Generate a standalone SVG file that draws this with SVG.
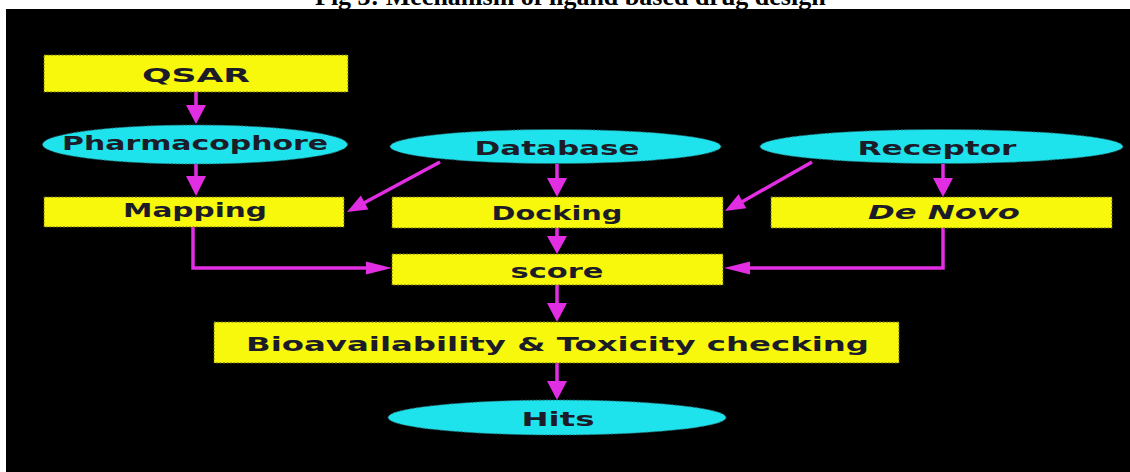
<svg xmlns="http://www.w3.org/2000/svg" width="1130" height="472" viewBox="0 0 1130 472">
  <style>
    .title { font-family: "Liberation Serif", serif; font-weight: bold; font-size: 26px; fill: #000; }
    .box { fill: #f8f80c; stroke: #6a6a20; stroke-width: 1; stroke-dasharray: 2 1.5; }
    .oval { fill: #1fe3ec; stroke: #2a6a70; stroke-width: 1; stroke-dasharray: 2 1.5; }
    .lbl { font-family: "DejaVu Sans", "Liberation Sans", sans-serif; font-weight: bold; font-size: 19px; fill: #1c1c28; text-anchor: middle; }
    .it { font-style: italic; }
    .wire { fill: none; stroke: #e22ee2; stroke-width: 3.5; }
    .head { fill: #e22ee2; }
  </style>

  <rect x="0" y="0" width="1130" height="472" fill="#ffffff"/>
  <text class="title" x="315" y="5">Fig 3: Mechanism of ligand based drug design</text>
  <rect x="6" y="9" width="1124" height="463" fill="#000000"/>

  <!-- connectors -->
  <g id="connectors">
    <!-- QSAR to Pharmacophore -->
    <line class="wire" x1="196" y1="92" x2="196" y2="108"/>
    <polygon class="head" points="186,105 206,105 196,124"/>
    <!-- Pharmacophore to Mapping -->
    <line class="wire" x1="196" y1="164" x2="196" y2="178"/>
    <polygon class="head" points="186,176 206,176 196,196"/>
    <!-- Database to Mapping -->
    <line class="wire" x1="440" y1="162" x2="362" y2="204"/>
    <polygon class="head" points="368.4,209.5 360.8,195.5 347,212"/>
    <!-- Database to Docking -->
    <line class="wire" x1="557" y1="164" x2="557" y2="180"/>
    <polygon class="head" points="547,178 567,178 557,197"/>
    <!-- Receptor to Docking -->
    <line class="wire" x1="812" y1="162" x2="740" y2="203"/>
    <polygon class="head" points="746.3,208.2 738.5,194.2 725,211"/>
    <!-- Receptor to De Novo -->
    <line class="wire" x1="943" y1="164" x2="943" y2="180"/>
    <polygon class="head" points="933,178 953,178 943,197"/>
    <!-- Docking to score -->
    <line class="wire" x1="557" y1="228" x2="557" y2="238"/>
    <polygon class="head" points="547,236 567,236 557,254"/>
    <!-- Mapping to score -->
    <polyline class="wire" points="193,227 193,268 370,268"/>
    <polygon class="head" points="366,261.5 366,274.5 392,268"/>
    <!-- De Novo to score -->
    <polyline class="wire" points="943,228 943,268 746,268"/>
    <polygon class="head" points="750,261.5 750,274.5 724,268"/>
    <!-- score to Bioavailability -->
    <line class="wire" x1="557" y1="285" x2="557" y2="305"/>
    <polygon class="head" points="547,303 567,303 557,322"/>
    <!-- Bioavailability to Hits -->
    <line class="wire" x1="557" y1="363" x2="557" y2="383"/>
    <polygon class="head" points="547,381 567,381 557,400"/>
  </g>

  <g id="qsar">
    <rect class="box" x="44" y="55" width="304" height="37"/>
    <text class="lbl" x="196" y="82" font-size="20" textLength="108" lengthAdjust="spacingAndGlyphs">QSAR</text>
  </g>

  <g id="pharmacophore">
    <ellipse class="oval" cx="195" cy="144.5" rx="152.5" ry="19.5"/>
    <text class="lbl" x="195" y="150" textLength="266" lengthAdjust="spacingAndGlyphs">Pharmacophore</text>
  </g>

  <g id="database">
    <ellipse class="oval" cx="555.5" cy="146.5" rx="165.5" ry="17"/>
    <text class="lbl" x="557" y="155" textLength="165" lengthAdjust="spacingAndGlyphs">Database</text>
  </g>

  <g id="receptor">
    <ellipse class="oval" cx="941.5" cy="146.5" rx="181.5" ry="17"/>
    <text class="lbl" x="937" y="155" textLength="159" lengthAdjust="spacingAndGlyphs">Receptor</text>
  </g>

  <g id="mapping">
    <rect class="box" x="44" y="197" width="300" height="30"/>
    <text class="lbl" x="195" y="217" textLength="144" lengthAdjust="spacingAndGlyphs">Mapping</text>
  </g>

  <g id="docking">
    <rect class="box" x="392" y="197" width="331" height="31"/>
    <text class="lbl" x="557" y="220" textLength="131" lengthAdjust="spacingAndGlyphs">Docking</text>
  </g>

  <g id="denovo">
    <rect class="box" x="771" y="197" width="341" height="31"/>
    <text class="lbl it" x="944" y="219" textLength="152" lengthAdjust="spacingAndGlyphs">De Novo</text>
  </g>

  <g id="score">
    <rect class="box" x="392" y="254" width="331" height="31"/>
    <text class="lbl" x="557" y="278" textLength="93" lengthAdjust="spacingAndGlyphs">score</text>
  </g>

  <g id="bioavailability">
    <rect class="box" x="214" y="322" width="685" height="41"/>
    <text class="lbl" x="557.5" y="351" textLength="623" lengthAdjust="spacingAndGlyphs">Bioavailability &amp; Toxicity checking</text>
  </g>

  <g id="hits">
    <ellipse class="oval" cx="557" cy="417.5" rx="169" ry="17.5"/>
    <text class="lbl" x="558" y="426" textLength="73" lengthAdjust="spacingAndGlyphs">Hits</text>
  </g>
</svg>
